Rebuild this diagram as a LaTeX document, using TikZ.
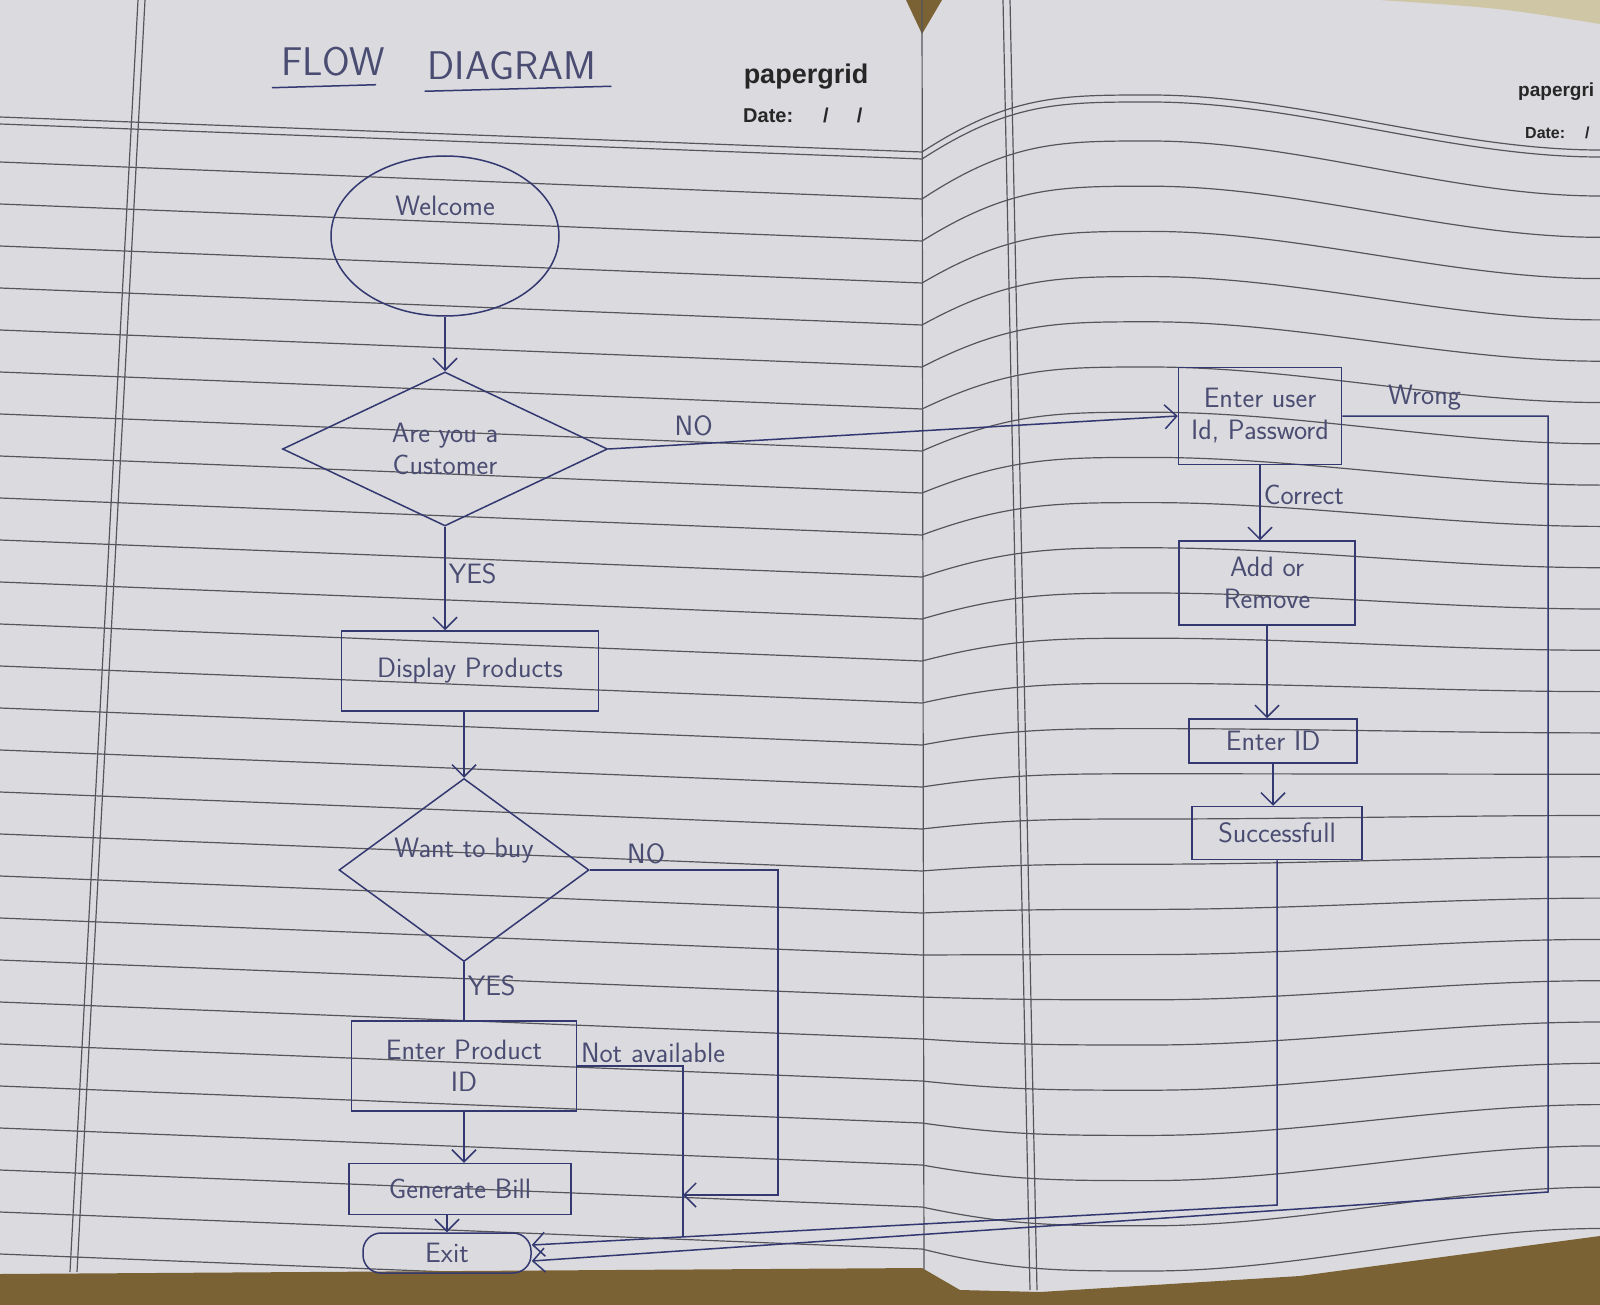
\documentclass[tikz,border=0pt]{standalone}
\usepackage{fontspec}
\usepackage{tikz}
\usetikzlibrary{shapes.geometric, arrows.meta}
\newfontfamily\printfont{Liberation Sans}
\definecolor{paper}{HTML}{DADADF}
\definecolor{ruling}{HTML}{55555B}
\definecolor{ink}{HTML}{343870}
\definecolor{inktext}{HTML}{4A4C72}
\definecolor{desk}{HTML}{7A6234}
\definecolor{desk-light}{HTML}{CFC6A6}
\newcommand{\handfont}{\sffamily\fontsize{28}{32}\selectfont}
\newcommand{\titlefont}{\sffamily\fontsize{40}{44}\selectfont}
\tikzset{
    rule-line/.style = {draw=ruling, line width=1.2pt},
    ink-line/.style = {draw=ink, line width=1.5pt},
    ink-arrow/.style = {ink-line, -{Straight Barb[length=12pt, width=24pt]}},
    ink-label/.style = {text=inktext, font=\handfont, inner sep=3pt},
    ink-box/.style = {draw=ink, line width=1.5pt, rectangle, text=inktext, font=\handfont, align=center, inner sep=2pt},
    ink-diamond/.style = {ink-box, diamond, inner sep=0pt},
    print-label/.style = {text=black!85, inner sep=0pt},
}

\begin{document}
\begin{tikzpicture}[x=1pt, y=-1pt]
\useasboundingbox (0,0) rectangle (1600,1305);
\fill[paper] (0,0) rectangle (1600,1305);
\fill[desk-light] (1380,0) -- (1600,0) -- (1600,24) .. controls (1500,8) .. (1380,0) -- cycle;
\fill[desk] (906,0) -- (942,0) -- (922,34) -- cycle;

% ruled paper
\foreach \h in {0,7}
    \draw[rule-line] (0,117+\h) -- (922,152+\h) .. controls (1010,95+\h) and (1060,95+\h) .. (1150,95+\h) .. controls (1300,95+\h) and (1450,150+\h) .. (1600,150+\h);
\foreach \k in {0,...,26} {
    \pgfmathsetmacro{\yl}{162+42*\k}
    \pgfmathsetmacro{\yg}{\yl+37}
    \pgfmathsetmacro{\ym}{\yg-58+3.2*\k}
    \pgfmathsetmacro{\ye}{\yg-3-0.7*\k}
    \draw[rule-line] (0,\yl) -- (922,\yg) .. controls (1010,\ym) and (1060,\ym) .. (1150,\ym) .. controls (1300,\ym) and (1450,\ye) .. (1600,\ye);
}
\draw[rule-line] (138,0) -- (70,1272);
\draw[rule-line] (145,0) -- (77,1272);
\draw[rule-line] (922,0) -- (924,1290);
\draw[rule-line] (1003,0) -- (1030,1290);
\draw[rule-line] (1010,0) -- (1037,1290);
\fill[desk] (0,1274) -- (922,1268) -- (960,1290) -- (1040,1292) -- (1300,1276) -- (1600,1236) -- (1600,1305) -- (0,1305) -- cycle;

\node[print-label, font=\printfont\bfseries\fontsize{27}{30}\selectfont] (brand) at (806,77) {papergrid};
\node[print-label, anchor=west, font=\printfont\bfseries\fontsize{20}{24}\selectfont] (date) at (743,115) {Date:\hspace{30pt}/\hspace{28pt}/};
\node[print-label, anchor=west, font=\printfont\bfseries\fontsize{19}{22}\selectfont] (brand-right) at (1518,92) {papergri};
\node[print-label, anchor=west, font=\printfont\bfseries\fontsize{16}{20}\selectfont] (date-right) at (1525,133) {Date:\hspace{20pt}/};

\node[ink-label, font=\titlefont] (title-flow) at (333,62) {FLOW};
\node[ink-label, font=\titlefont] (title-diagram) at (512,66) {DIAGRAM};
\draw[ink-line] ([xshift=-6pt, yshift=-8pt]title-flow.south west) -- ([xshift=-12pt, yshift=-5pt]title-flow.south east);
\draw[ink-line] ([yshift=-8pt]title-diagram.south west) -- ([xshift=12pt, yshift=-3pt]title-diagram.south east);

% left page
\node[ink-box, ellipse, minimum width=228pt, minimum height=160pt, text depth=60pt] (welcome) at (445,236) {Welcome};
\node[ink-diamond, aspect=2, minimum width=325pt, minimum height=154pt] (customer) at (445,449) {Are you a\\Customer};
\node[ink-box, minimum width=257pt, minimum height=80pt] (display) at (470,671) {Display Products};
\node[ink-diamond, aspect=1.4, minimum width=250pt, minimum height=183pt, text depth=45pt] (buy) at (464,870) {Want to buy};
\node[ink-box, minimum width=225pt, minimum height=90pt] (product) at (464,1066) {Enter Product\\ID};
\node[ink-box, minimum width=222pt, minimum height=51pt] (bill) at (460,1189) {Generate Bill};
\node[ink-box, rounded corners=18pt, minimum width=168pt, minimum height=40pt] (exit) at (447,1253) {Exit};

% right page
\node[ink-box, minimum width=163pt, minimum height=97pt] (login) at (1260,416) {Enter user\\Id, Password};
\node[ink-box, minimum width=176pt, minimum height=84pt] (addrem) at (1267,583) {Add or\\Remove};
\node[ink-box, minimum width=168pt, minimum height=44pt] (enterid) at (1273,741) {Enter ID};
\node[ink-box, minimum width=170pt, minimum height=53pt] (success) at (1277,833) {Successfull};

\coordinate (buy-turn) at (778,1195);
\coordinate (buy-join) at (683,1195);
\coordinate (avail-turn) at (683,1066);
\coordinate (avail-foot) at (683,1237);
\coordinate (success-foot) at (1277,1205);
\coordinate (wrong-foot) at (1548,1192);

\draw[ink-arrow] (welcome) -- (customer);
\draw[ink-arrow] (customer.east) -- node[ink-label, pos=0.15, above=4pt] {NO} (login.west);
\draw[ink-arrow] (customer.south) -- node[ink-label, right, pos=0.45] {YES} (customer.south |- display.north);
\draw[ink-arrow] (display.south -| buy.north) -- (buy.north);
\draw[ink-arrow] (buy.east) -| node[ink-label, pos=0.15, above=2pt] {NO} (buy-turn) -- (buy-join);
\draw[ink-line] (buy.south) -- node[ink-label, right, pos=0.4] {YES} (product.north);
\draw[ink-line] (product.east) -- node[ink-label, pos=0, anchor=south west] {Not available} (avail-turn) -- (avail-foot);
\draw[ink-arrow] (product.south) -- (product.south |- bill.north);
\draw[ink-arrow] (bill.south -| exit.north) -- (exit.north);

\draw[ink-arrow] (login.south) -- node[ink-label, right, pos=0.4] {Correct} (login.south |- addrem.north);
\draw[ink-arrow] (addrem.south) -- (addrem.south |- enterid.north);
\draw[ink-arrow] (enterid.south) -- (enterid.south |- success.north);
\draw[ink-arrow] (success.south) -- (success-foot) -- ([yshift=8pt]exit.east);
\draw[ink-arrow] (login.east) -| node[ink-label, pos=0.2, above=2pt] {Wrong} (wrong-foot) -- ([yshift=-8pt]exit.east);
\end{tikzpicture}
\end{document}
